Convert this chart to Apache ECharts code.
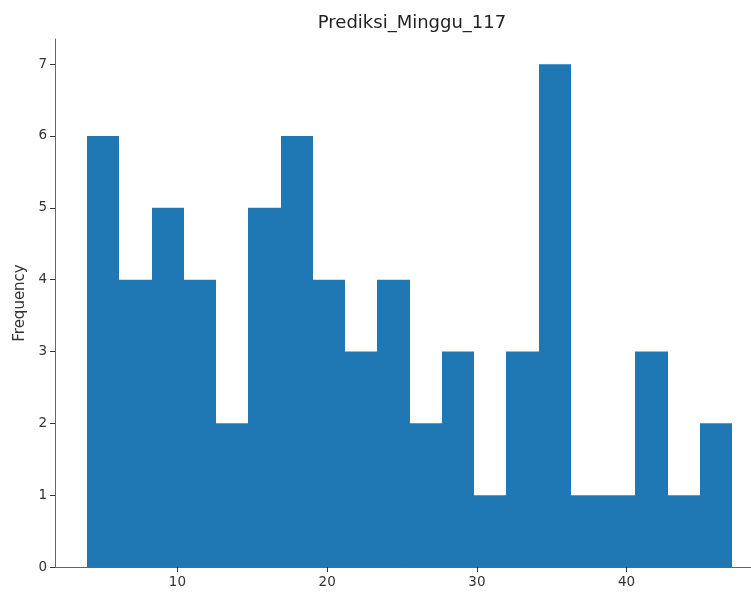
<!DOCTYPE html>
<html>
<head>
<meta charset="utf-8">
<script src="https://cdn.jsdelivr.net/npm/echarts@6/dist/echarts.min.js"></script>
<style>
  html, body { margin: 0; padding: 0; background: #fff; }
  #chart { width: 751px; height: 596px; }
</style>
</head>
<body>
<div id="chart"></div>
<script>
/* histogram data: 20 bins between binStart and binEnd */
const titleText = 'Prediksi_Minggu_117';
const binStart = 3.97;
const binEnd = 47.05;
const counts = [6, 4, 5, 4, 2, 5, 6, 4, 3, 4, 2, 3, 1, 3, 7, 1, 1, 3, 1, 2];
const xTicks = [10, 20, 30, 40];
const yTicks = [0, 1, 2, 3, 4, 5, 6, 7];

const binW = (binEnd - binStart) / counts.length;
const bins = counts.map((c, i) => [binStart + i * binW, binStart + (i + 1) * binW, c]);

const font = 'DejaVu Sans';
const chart = echarts.init(document.getElementById('chart'), null, { renderer: 'canvas' });

chart.setOption({
  animation: false,
  title: {
    text: titleText,
    left: 407, top: 9, textAlign: 'center',
    textStyle: { fontFamily: font, fontSize: 18, fontWeight: 'normal', color: '#222' }
  },
  // plot area runs past the right edge in the original, so axis max is the visible edge
  grid: { left: 55, right: 0, top: 39, bottom: 29, containLabel: false },
  xAxis: {
    type: 'value', min: 1.82, max: 48.31,
    splitLine: { show: false },
    axisLine: { show: true, lineStyle: { color: '#666', width: 1 } },
    axisTick: { show: true, length: 5, lineStyle: { color: '#333' },
      customValues: xTicks },
    axisLabel: { fontFamily: font, fontSize: 13.5, color: '#333', margin: 8,
      customValues: xTicks }
  },
  yAxis: {
    type: 'value', min: 0, max: 7.35,
    name: 'Frequency', nameLocation: 'middle', nameGap: 27,
    nameTextStyle: { fontFamily: font, fontSize: 15, color: '#333' },
    splitLine: { show: false },
    axisLine: { show: true, lineStyle: { color: '#666', width: 1 } },
    axisTick: { show: true, length: 5, lineStyle: { color: '#333' },
      customValues: yTicks },
    axisLabel: { fontFamily: font, fontSize: 13.5, color: '#333', margin: 8,
      customValues: yTicks }
  },
  series: [{
    type: 'custom',
    data: bins,
    encode: { x: [0, 1], y: 2 },
    renderItem: (params, api) => {
      const p0 = api.coord([api.value(0), 0]);
      const p1 = api.coord([api.value(1), api.value(2)]);
      // snap edges to whole pixels so adjacent bins meet without seams
      const x0 = Math.round(p0[0]), x1 = Math.round(p1[0]);
      return {
        type: 'rect',
        shape: { x: x0, y: p1[1], width: x1 - x0, height: p0[1] - p1[1] },
        style: { fill: '#1f77b4' }
      };
    }
  }]
});
</script>
</body>
</html>
